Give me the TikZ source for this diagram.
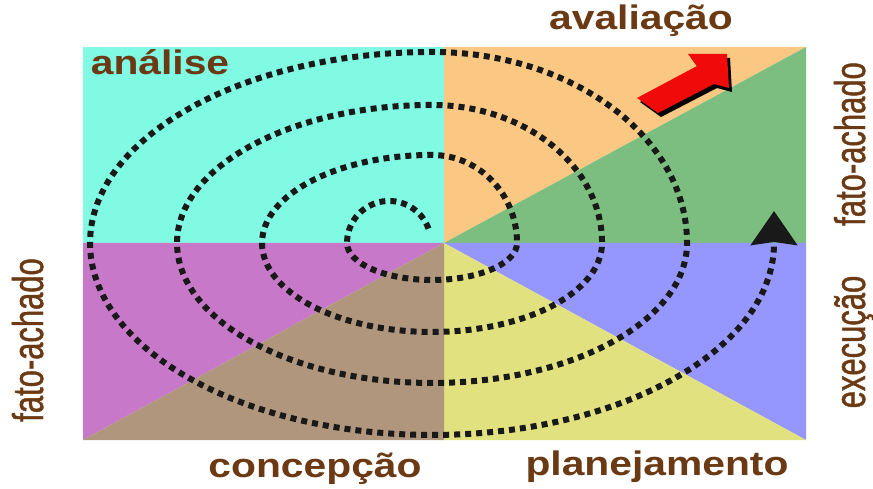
\documentclass[tikz,border=0pt]{standalone}
\usepackage{fontspec}
\usetikzlibrary{arrows.meta}
\newfontfamily\wordfont{Liberation Sans}[FakeStretch=1.2]
\newfontfamily\sidefont{Liberation Sans}[FakeStretch=0.72, FakeBold=1]
\definecolor{aqua}{RGB}{128,250,226}
\definecolor{peach}{RGB}{250,200,130}
\definecolor{leaf}{RGB}{124,190,128}
\definecolor{lilac}{RGB}{150,150,255}
\definecolor{straw}{RGB}{225,225,128}
\definecolor{plum}{RGB}{200,120,200}
\definecolor{taupe}{RGB}{175,150,125}
\definecolor{brn}{RGB}{107,58,20}
\definecolor{redarrow}{RGB}{240,10,10}
\tikzset{
  word/.style={text=brn, font=\wordfont\bfseries\fontsize{34}{40}\selectfont, anchor=base, inner sep=0pt},
  sideword/.style={text=brn, font=\sidefont\fontsize{43}{50}\selectfont, rotate=90, anchor=base, inner sep=0pt},
  spiral/.style={line width=6pt, dash pattern=on 6pt off 5pt, draw=black!90}
}

\begin{document}
\begin{tikzpicture}[x=1pt,y=1pt]
    \useasboundingbox (0,0) rectangle (873,488);
    % quadrants
    \fill[aqua] (83,245) rectangle (444,441);
    \fill[peach] (444,245) -- (444,441) -- (806,441) -- cycle;
    \fill[leaf] (444,245) -- (806,441) -- (806,245) -- cycle;
    \fill[lilac] (444,245) -- (806,245) -- (806,48) -- cycle;
    \fill[straw] (444,245) -- (806,48) -- (444,48) -- cycle;
    \fill[plum] (444,245) -- (83,245) -- (83,48) -- cycle;
    \fill[taupe] (444,245) -- (83,48) -- (444,48) -- cycle;

    % spiral
    \draw[spiral, -{Stealth[length=34pt, width=46pt, inset=3pt]}]
    (428.5,259.4) arc[start angle=20, end angle=180, radius=42]
    arc[start angle=180, end angle=270, x radius=85, y radius=37]
    arc[start angle=270, end angle=360, x radius=85, y radius=37]
    arc[start angle=0, end angle=90, x radius=85, y radius=88]
    arc[start angle=90, end angle=180, x radius=170, y radius=88]
    arc[start angle=180, end angle=270, x radius=170, y radius=89]
    arc[start angle=270, end angle=360, x radius=170, y radius=89]
    arc[start angle=0, end angle=90, x radius=170, y radius=138]
    arc[start angle=90, end angle=180, x radius=255, y radius=138]
    arc[start angle=180, end angle=270, x radius=255, y radius=140]
    arc[start angle=270, end angle=360, x radius=255, y radius=140]
    arc[start angle=0, end angle=90, x radius=255, y radius=191]
    arc[start angle=90, end angle=180, x radius=342, y radius=191]
    arc[start angle=180, end angle=270, x radius=342, y radius=192]
    arc[start angle=270, end angle=360, x radius=342, y radius=192]
    -- ++(0,32);

    % red arrow
    \fill[black] (640,386) -- (700,418) -- (691,430) -- (730,430) -- (732,396) -- (717,400) -- (661,371) -- cycle;
    \fill[redarrow] (637,390) -- (697,422) -- (688,434) -- (727,434) -- (729,400) -- (714,404) -- (658,375) -- cycle;

    % labels
    \node[word] (avaliacao) at (641,458) {avaliação};
    \node[word] (analise) at (160,413) {análise};
    \node[word] (concepcao) at (315,11) {concepção};
    \node[word] (planejamento) at (657,13) {planejamento};
    \node[sideword] (fatoR) at (865,344) {fato-achado};
    \node[sideword] (execucao) at (865,146) {execução};
    \node[sideword] (fatoL) at (43,148) {fato-achado};
\end{tikzpicture}
\end{document}
